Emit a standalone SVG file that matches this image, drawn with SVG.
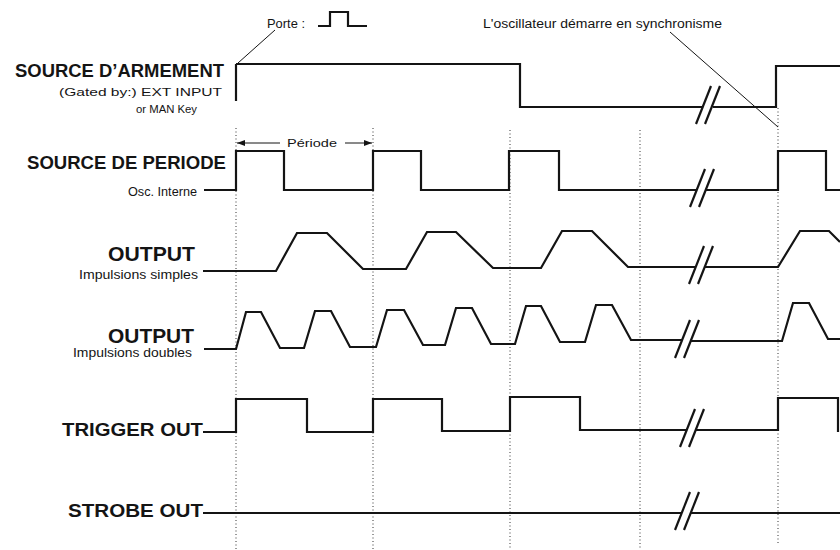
<svg xmlns="http://www.w3.org/2000/svg" xmlns:xlink="http://www.w3.org/1999/xlink" width="840" height="550" viewBox="0 0 840 550">
<style>
.wave{fill:none;stroke:#141414;stroke-width:2.2;stroke-linejoin:miter;stroke-linecap:butt}
.grid{fill:none;stroke:#333;stroke-width:1;stroke-dasharray:1,2.5}
.lead{fill:none;stroke:#141414;stroke-width:1}
.big{font-family:"Liberation Sans",Arial,sans-serif;font-weight:bold;fill:#141414}
.small{font-family:"Liberation Sans",Arial,sans-serif;fill:#141414}
.brk line{stroke:#141414;stroke-width:2.2}
</style>
<defs>
<g id="brk" class="brk">
<line x1="-7" y1="17" x2="8" y2="-21"/>
<line x1="2" y1="17" x2="17" y2="-21"/>
</g>
<marker id="ah" viewBox="0 0 8 6" refX="8" refY="3" markerWidth="8" markerHeight="6" markerUnits="userSpaceOnUse" orient="auto">
<path d="M0,0 L8,3 L0,6 Z" fill="#141414"/>
</marker>
</defs>
<rect width="840" height="550" fill="#fff"/>

<g id="gridlines">
<line class="grid" x1="236" y1="128" x2="236" y2="550"/>
<line class="grid" x1="373" y1="128" x2="373" y2="550"/>
<line class="grid" x1="510" y1="130" x2="510" y2="550"/>
<line class="grid" x1="640" y1="130" x2="640" y2="550"/>
<line class="grid" x1="778" y1="108" x2="778" y2="545"/>
</g>

<g id="armement">
<text class="big" x="15" y="77" font-size="17.5" textLength="209" lengthAdjust="spacingAndGlyphs">SOURCE D’ARMEMENT</text>
<text class="small" x="59" y="96" font-size="11" textLength="163" lengthAdjust="spacingAndGlyphs">(Gated by:) EXT INPUT</text>
<text class="small" x="136" y="113" font-size="11.5" textLength="61" lengthAdjust="spacingAndGlyphs">or MAN Key</text>
<line class="wave" x1="236" y1="101" x2="236" y2="64"/>
<path class="wave" d="M236,64 H520 V107 H703"/>
<path class="wave" d="M713,107 H776 V66 H840"/>
<use xlink:href="#brk" x="703" y="107"/>
</g>

<g id="porte">
<text class="small" x="267" y="28" font-size="12" textLength="38" lengthAdjust="spacingAndGlyphs">Porte :</text>
<path class="wave" d="M318,26 H330 V12 H348 V26 H367" stroke-width="2"/>
</g>

<g id="osc-note">
<text class="small" x="483" y="28" font-size="12" textLength="239" lengthAdjust="spacingAndGlyphs">L'oscillateur démarre en synchronisme</text>
</g>

<g id="periode">
<text class="big" x="27" y="169" font-size="18" textLength="199" lengthAdjust="spacingAndGlyphs">SOURCE DE PERIODE</text>
<text class="small" x="128" y="196" font-size="12" textLength="69" lengthAdjust="spacingAndGlyphs">Osc. Interne</text>
<path class="wave" d="M204,190 H236 V151 H284 V190 H373 V151 H421 V190 H509 V151 H559 V190 H697"/>
<path class="wave" d="M706,190 H778 V151 H826 V190 H840"/>
<use xlink:href="#brk" x="697" y="190"/>
</g>

<g id="periode-label">
<text class="small" x="287" y="147" font-size="11" textLength="50" lengthAdjust="spacingAndGlyphs">Période</text>
</g>

<g id="output-simple">
<text class="big" x="108" y="261" font-size="20" textLength="87" lengthAdjust="spacingAndGlyphs">OUTPUT</text>
<text class="small" x="79" y="279" font-size="12" textLength="119" lengthAdjust="spacingAndGlyphs">Impulsions simples</text>
<path class="wave" d="M203,271 H276 L297,233 H327 L363,269 H406 L427,232 H456 L493,268 H541 L562,231 H592 L628,267 H696"/>
<path class="wave" d="M705,267 H778 L800,231 H829 L840,242"/>
<use xlink:href="#brk" x="696" y="267"/>
</g>

<g id="output-double">
<text class="big" x="108" y="343" font-size="20" textLength="86" lengthAdjust="spacingAndGlyphs">OUTPUT</text>
<text class="small" x="73" y="357" font-size="12" textLength="119" lengthAdjust="spacingAndGlyphs">Impulsions doubles</text>
<path class="wave" d="M204,349 H236 L246,312 H261 L280,348 H304 L315,311 H331 L350,347 H376 L387,310 H404 L423,345 H445 L456,308 H472 L491,344 H515 L526,306 H541 L560,342 H585 L596,305 H612 L631,340 H682"/>
<path class="wave" d="M691,341 H782 L793,303 H809 L828,339 H840"/>
<use xlink:href="#brk" x="682" y="341"/>
</g>

<g id="trigger">
<text class="big" x="62" y="436" font-size="19" textLength="141" lengthAdjust="spacingAndGlyphs">TRIGGER OUT</text>
<path class="wave" d="M203,432 H236 V399 H307 V432 H373 V399 H442 V431 H510 V397 H580 V430 H687"/>
<path class="wave" d="M696,430 H778 V398 H838 V432"/>
<use xlink:href="#brk" x="687" y="430"/>
</g>

<g id="strobe">
<text class="big" x="68" y="517" font-size="19" textLength="135" lengthAdjust="spacingAndGlyphs">STROBE OUT</text>
<path class="wave" d="M203,513 H682"/>
<path class="wave" d="M691,513 H840"/>
<use xlink:href="#brk" x="682" y="513"/>
</g>

<g id="connectors">
<line class="lead" x1="275" y1="30" x2="238" y2="63"/>
<line class="lead" x1="670" y1="32" x2="778" y2="127"/>
<line class="lead" x1="280" y1="143" x2="237" y2="143" marker-end="url(#ah)"/>
<line class="lead" x1="345" y1="143" x2="372" y2="143" marker-end="url(#ah)"/>
</g>
</svg>
